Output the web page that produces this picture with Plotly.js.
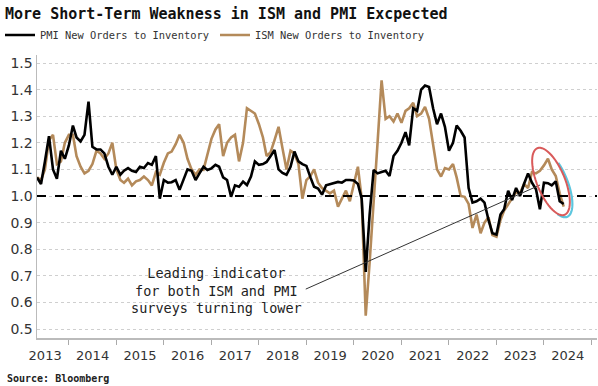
<!DOCTYPE html>
<html>
<head>
<meta charset="utf-8">
<script src="https://cdn.plot.ly/plotly-3.0.1.min.js"></script>
<style>html,body{margin:0;padding:0;background:#fff;}#chart{width:598px;height:386px;}</style>
</head>
<body>
<div id="chart"></div>
<script>
// Monthly series, May 2013 .. Jun 2024
const startYear = 2013, startMonth = 5;
const pmiNewOrdersToInventory = [
  1.07,1.045,1.13,1.225,1.10,1.065,1.17,1.14,
  1.19,1.265,1.22,1.205,1.23,1.355,1.185,1.175,1.175,1.16,1.11,1.08,
  1.11,1.08,1.095,1.105,1.095,1.09,1.11,1.105,1.124,1.117,1.15,0.99,
  1.06,1.05,1.052,1.06,1.023,1.066,1.10,1.095,1.06,1.085,1.11,1.098,
  1.104,1.117,1.11,1.07,1.06,0.997,1.04,1.035,1.054,1.041,1.073,1.13,
  1.117,1.12,1.128,1.15,1.173,1.10,1.087,1.08,1.11,1.167,1.13,1.12,
  1.113,1.07,1.035,1.028,1.005,1.04,1.045,1.05,1.053,1.05,1.06,1.06,
  1.058,1.045,0.99,0.715,0.93,1.098,1.085,1.09,1.095,1.075,1.15,1.17,
  1.20,1.24,1.19,1.33,1.32,1.40,1.415,1.41,1.33,1.27,1.31,1.26,
  1.17,1.20,1.265,1.245,1.22,1.03,0.975,0.98,0.99,0.975,0.91,0.86,
  0.855,0.93,0.95,1.02,0.985,1.03,1.0,1.045,1.085,1.05,1.025,0.95,
  1.05,1.048,1.04,1.055,0.98,0.97
];
const ismNewOrdersToInventory = [
  1.07,1.06,1.10,1.21,1.23,1.12,1.13,1.20,
  1.23,1.23,1.15,1.11,1.085,1.095,1.12,1.17,1.16,1.14,1.16,1.20,
  1.10,1.06,1.05,1.065,1.04,1.055,1.06,1.073,1.06,1.04,1.09,1.08,
  1.125,1.16,1.167,1.195,1.23,1.20,1.14,1.10,1.08,1.10,1.098,1.16,
  1.215,1.25,1.27,1.15,1.20,1.22,1.23,1.13,1.20,1.33,1.32,1.31,
  1.27,1.22,1.15,1.165,1.21,1.26,1.18,1.10,1.17,1.16,1.12,0.99,
  1.06,1.075,1.10,1.05,1.03,1.02,1.01,1.02,0.96,0.99,1.02,0.98,
  1.05,1.11,0.99,0.55,0.75,1.0,1.2,1.435,1.29,1.30,1.28,1.31,
  1.275,1.32,1.33,1.35,1.30,1.31,1.335,1.29,1.185,1.10,1.073,1.105,
  1.10,1.12,1.07,1.0,0.997,0.97,0.88,0.93,0.86,0.90,0.92,0.853,
  0.847,0.91,0.945,0.97,0.99,1.015,1.01,1.045,1.03,1.09,1.085,1.095,
  1.115,1.14,1.10,1.075,1.01,0.96
];
const months = pmiNewOrdersToInventory.map((_, i) => {
  const t = startMonth - 1 + i;
  const y = startYear + Math.floor(t / 12);
  const m = (t % 12) + 1;
  return y + '-' + String(m).padStart(2, '0') + '-01';
});
const seriesNames = ['PMI New Orders to Inventory', 'ISM New Orders to Inventory'];
const yTicks = [0.5,0.6,0.7,0.8,0.9,1.0,1.1,1.2,1.3,1.4,1.5];
const noteText = 'Leading indicator<br>for both ISM and PMI<br>surveys turning lower';

const mono = 'DejaVu Sans Mono, Liberation Mono, monospace';
const sans = 'DejaVu Sans, Verdana, sans-serif';

// plot box in px
const L = 37, R = 597, T = 55, B = 338, W = 598, H = 386;
const pw = R - L, ph = B - T;
function ellipsePath(cx, cy, a, b, ang, t0, t1, closed) {
  const ux = Math.sin(ang), uy = Math.cos(ang);
  const vx = -uy, vy = ux;
  let d = '';
  const n = 60;
  for (let i = 0; i <= n; i++) {
    const t = t0 + (t1 - t0) * i / n;
    const px = cx + a * Math.cos(t) * ux + b * Math.sin(t) * vx;
    const py = cy + a * Math.cos(t) * uy + b * Math.sin(t) * vy;
    const X = (px - L) / pw, Y = (B - py) / ph;
    d += (i === 0 ? 'M' : 'L') + X.toFixed(4) + ',' + Y.toFixed(4);
  }
  return d + (closed ? 'Z' : '');
}

const traces = [
  {x: months, y: ismNewOrdersToInventory, name: seriesNames[1], type: 'scatter', mode: 'lines',
   line: {color: '#b48a5a', width: 2.6}, legendrank: 2},
  {x: months, y: pmiNewOrdersToInventory, name: seriesNames[0], type: 'scatter', mode: 'lines',
   line: {color: '#000000', width: 2.6}, legendrank: 1}
];

const layout = {
  width: W, height: H,
  margin: {l: L, r: W - R, t: T, b: H - B},
  paper_bgcolor: '#fff', plot_bgcolor: '#fff',
  title: {text: '<b>More Short-Term Weakness in ISM and PMI Excpected</b>',
          xref: 'container', yref: 'container', x: 5 / W, xanchor: 'left',
          y: 1 - 14 / H, yanchor: 'middle',
          font: {family: mono, size: 15, color: '#111'}},
  showlegend: true,
  legend: {orientation: 'h', xref: 'container', yref: 'container', x: 0, xanchor: 'left',
           y: 1 - 35 / H, yanchor: 'middle',
           font: {family: mono, size: 10.4, color: '#333'}, itemwidth: 30,
           entrywidth: 170, entrywidthmode: 'pixels',
           bgcolor: 'rgba(0,0,0,0)', tracegroupgap: 0},
  xaxis: {type: 'date', range: ['2013-05-01', '2025-02-12'],
          tickmode: 'linear', tick0: '2013-01-01', dtick: 'M12', tickformat: '%Y',
          ticklabelmode: 'period', ticks: 'outside', ticklen: 5, tickcolor: '#aaa',
          showgrid: false, showline: true, linecolor: '#bbb', linewidth: 1.5,
          tickfont: {family: sans, size: 13, color: '#333'}, zeroline: false, fixedrange: true},
  yaxis: {range: [0.5 - 9 / 266, 0.5 - 9 / 266 + ph / 266], tickmode: 'array', tickvals: yTicks,
          tickformat: '.1f', showgrid: true, gridcolor: '#cfcfcf', griddash: 'dot', gridwidth: 1,
          showline: true, linecolor: '#bbb', linewidth: 1.5, ticks: '',
          tickfont: {family: sans, size: 14, color: '#333'}, zeroline: false, fixedrange: true},
  shapes: [
    {type: 'line', xref: 'paper', yref: 'y', x0: 0, x1: 1, y0: 1.0, y1: 1.0,
     line: {color: '#000', width: 2, dash: 'dash'}, layer: 'above'},
    {type: 'line', xref: 'x', yref: 'y', x0: '2018-12-27', y0: 0.650, x1: '2023-12-01', y1: 1.041,
     line: {color: '#333', width: 1}, layer: 'above'},
    {type: 'path', xref: 'paper', yref: 'paper',
     path: ellipsePath(553.5, 183.5, 36, 14, 0.39, -Math.PI / 2 - 0.5, 0.6, false),
     line: {color: '#5cc6de', width: 2.2}, layer: 'above'},
    {type: 'path', xref: 'paper', yref: 'paper',
     path: ellipsePath(551, 181.5, 36, 14, 0.39, 0, 2 * Math.PI, true),
     line: {color: '#d95a5a', width: 2}, layer: 'above'}
  ],
  annotations: [
    {xref: 'paper', yref: 'paper', x: (216 - L) / pw, y: (B - 290) / ph, xanchor: 'center', yanchor: 'middle',
     text: noteText, showarrow: false, align: 'center',
     font: {family: mono, size: 13.5, color: '#222'}},
    {xref: 'paper', yref: 'paper', x: (5 - L) / pw, y: (B - 378) / ph, xanchor: 'left', yanchor: 'middle',
     text: '<b>Source: Bloomberg</b>', showarrow: false,
     font: {family: mono, size: 10, color: '#222'}}
  ]
};

Plotly.newPlot('chart', traces, layout, {displayModeBar: false, staticPlot: true});
</script>
</body>
</html>
